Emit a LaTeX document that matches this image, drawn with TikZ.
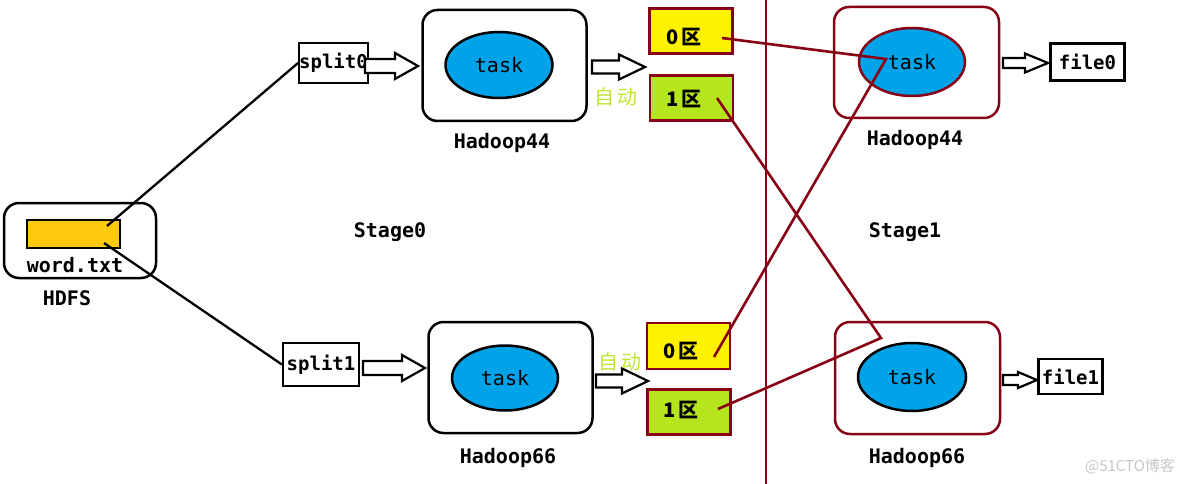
\documentclass[tikz,border=0pt]{standalone}
\usepackage{fontspec}
\newfontfamily\mono{DejaVu Sans Mono}
\newfontfamily\cjk{Noto Sans CJK SC}
\usetikzlibrary{shapes.geometric}
\definecolor{dred}{RGB}{136,0,21}
\definecolor{tblue}{RGB}{0,162,232}
\definecolor{pyel}{RGB}{255,242,0}
\definecolor{pgrn}{RGB}{181,230,29}
\definecolor{zd}{RGB}{190,230,50}
\definecolor{worange}{RGB}{255,201,14}
\newcommand\barrow[6]{%
\draw[barrowstyle] (#1,#3-#4) -- (#2-#6,#3-#4) -- (#2-#6,#3-#5) -- (#2,#3) -- (#2-#6,#3+#5) -- (#2-#6,#3+#4) -- (#1,#3+#4) -- cycle;}
\begin{document}
\begin{tikzpicture}[x=1pt,y=-1pt,
  barrowstyle/.style={draw=black,line width=2.2pt,fill=white,line join=miter},
  hostbox/.style={draw,line width=2.5pt,rounded corners=15pt,minimum width=#1,minimum height=111pt,inner sep=0pt},
  taskell/.style={ellipse,draw,line width=2.5pt,fill=tblue,inner sep=0pt,font=\mono\fontsize{20}{20}\selectfont},
  filebox/.style={draw,line width=2.3pt,inner sep=0pt,font=\mono\bfseries\fontsize{19}{19}\selectfont},
  part/.style={draw=dred,line width=2.5pt,inner sep=0pt,minimum width=83pt,minimum height=45pt},
  partlab/.style={font=\cjk\bfseries\fontsize{20}{20}\selectfont},
  hostlab/.style={font=\mono\bfseries\fontsize{20}{20}\selectfont},
  zdlab/.style={text=zd,font=\cjk\fontsize{20}{20}\selectfont},
  link/.style={line width=2.3pt,draw=black},
  rlink/.style={line width=2.6pt,draw=dred}]
\useasboundingbox (0,0) rectangle (1184,484);
% HDFS
\node[draw,line width=2.5pt,rounded corners=15pt,minimum width=152pt,minimum height=75pt] (hdfs) at (80,240.5) {};
\node[draw,line width=2pt,fill=worange,minimum width=93pt,minimum height=28pt,inner sep=0pt] (word) at (73.5,234) {};
\node[hostlab] (wordtxt) at (75,265) {word.txt};
\node[hostlab] (hdfslab) at (67,298) {HDFS};
% splits
\node[filebox,minimum width=63pt,minimum height=40pt] (split0) at (333.5,63) {split0};
\node[filebox,minimum width=76pt,minimum height=43pt] (split1) at (321,364.5) {split1};
\coordinate (w0) at (107,226);
\coordinate (w1) at (104,243);
\draw[link] (w0) -- (split0.west);
\draw[link] (w1) -- (split1.west);
% stage0 hosts
\node[hostbox=164pt] (h44) at (504.5,65.5) {};
\node[taskell,minimum width=107pt,minimum height=66pt] (t44) at (499,65) {task};
\node[hostlab] (h44lab) at (502,143) {Hadoop44};
\node[hostbox=164pt] (h66) at (510.5,377.5) {};
\node[taskell,minimum width=106pt,minimum height=65pt] (t66) at (505,378) {task};
\node[hostlab] (h66lab) at (508,458) {Hadoop66};
% block arrows
\barrow{365}{418}{66}{7}{13}{23}
\barrow{592}{645}{67}{6.5}{12.5}{26}
\barrow{363}{425}{368}{7}{13}{23}
\barrow{596}{648}{381}{6.5}{12.5}{26}
\barrow{1003}{1048}{63}{5}{9.5}{23}
\barrow{1003}{1037}{380}{5}{8}{19}
% auto labels
\node[zdlab] (zd1) at (616,97) {自\,动};
\node[zdlab] (zd2) at (620,362) {自\,动};
% partitions
\node[part,fill=pyel] (p00) at (691,31) {};
\node[partlab] (p00l) at (684,37) {0\,区};
\node[part,fill=pgrn] (p01) at (691.5,98) {};
\node[partlab] (p01l) at (684,99) {1\,区};
\node[part,fill=pyel,minimum height=46pt] (p10) at (688.5,346) {};
\node[partlab] (p10l) at (681,351) {0\,区};
\node[part,fill=pgrn] (p11) at (689,412) {};
\node[partlab] (p11l) at (681,410) {1\,区};
% divider
\coordinate (dtop) at (766,0);
\coordinate (dbot) at (766,484);
\draw[line width=2.2pt,dred] (dtop) -- (dbot);
% stage labels
\node[hostlab] (st0) at (390,232) {Stage0};
\node[hostlab] (st1) at (905,232) {Stage1};
% stage1 hosts
\node[hostbox=165pt,draw=dred] (h44r) at (916.5,62.5) {};
\node[taskell,draw=dred,minimum width=106pt,minimum height=68pt] (t44r) at (912,62) {task};
\node[hostlab] (h44rlab) at (915,140) {Hadoop44};
\node[hostbox=165pt,draw=dred,minimum height=112pt] (h66r) at (917.5,378) {};
\node[taskell,minimum width=108pt,minimum height=68pt] (t66r) at (912,377) {task};
\node[hostlab] (h66rlab) at (917,458) {Hadoop66};
% files
\node[filebox,minimum width=74pt,minimum height=37pt] (file0) at (1087.5,62) {file0};
\node[filebox,minimum width=64pt,minimum height=35pt] (file1) at (1070.5,376.5) {file1};
% shuffle lines
\coordinate (a0) at (722,38);
\coordinate (a1) at (717,98);
\coordinate (b0) at (714,357);
\coordinate (b1) at (718,409);
\coordinate (k0) at (886,59);
\coordinate (k1) at (881,338);
\draw[rlink,line join=miter] (a0) -- (k0) -- (b0);
\draw[rlink,line join=miter] (a1) -- (k1) -- (b1);
% watermark
\node[text=black!22,font=\cjk\fontsize{15}{15}\selectfont] (wm) at (1130,466) {@51CTO博客};
\end{tikzpicture}
\end{document}
